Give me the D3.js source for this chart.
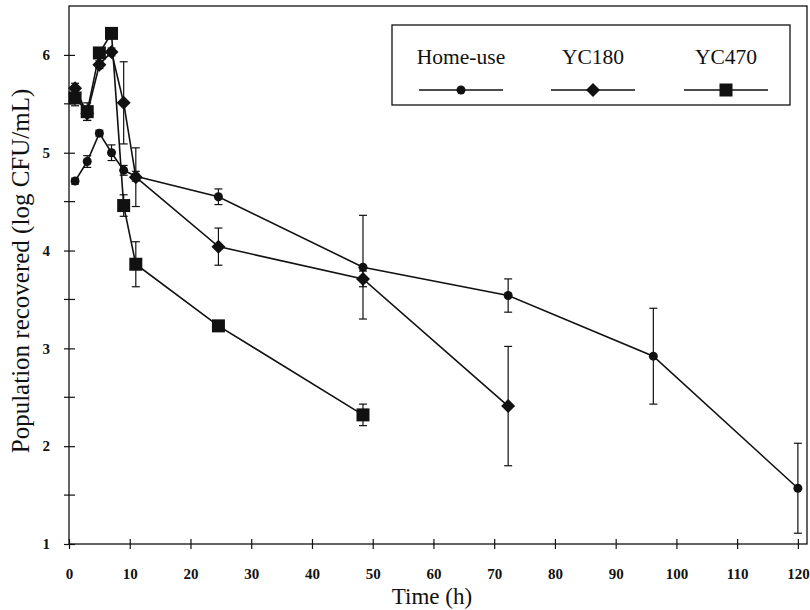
<!DOCTYPE html>
<html>
<head>
<meta charset="utf-8">
<script src="https://cdn.jsdelivr.net/npm/d3@7/dist/d3.min.js"></script>
<style>
  body { margin: 0; background: #fff; }
  svg { display: block; }
  text { font-family: "Liberation Serif", "Times New Roman", serif; fill: #111; }
</style>
</head>
<body>
<div id="chart"></div>
<script>
// data (time in h, log CFU/mL, error = +/- half bar)
var seriesNames = ["Home-use", "YC180", "YC470"];

var homeTime = [1, 3, 5, 7, 9, 11, 24.6, 48.4, 72.3, 96.2, 120];
var homeValue = [4.71, 4.91, 5.20, 5.00, 4.82, 4.76, 4.55, 3.83, 3.54, 2.92, 1.57];
var homeError = [0.03, 0.06, 0.03, 0.08, 0.05, 0.05, 0.08, 0.53, 0.17, 0.49, 0.46];

var yc180Time = [1, 3, 5, 7, 9, 11, 24.6, 48.4, 72.3];
var yc180Value = [5.66, 5.40, 5.90, 6.03, 5.51, 4.75, 4.04, 3.71, 2.41];
var yc180Error = [0.05, 0.07, 0.04, 0.04, 0.42, 0.30, 0.19, 0.08, 0.61];

var yc470Time = [1, 3, 5, 7, 9, 11, 24.6, 48.4];
var yc470Value = [5.56, 5.42, 6.02, 6.22, 4.46, 3.86, 3.23, 2.32];
var yc470Error = [0.08, 0.09, 0.04, 0.04, 0.11, 0.23, 0.05, 0.11];

var xTicks = d3.range(0, 121, 10);
var yTicks = [1, 2, 3, 4, 5, 6];
var yMinor = [1.5, 2.5, 3.5, 4.5, 5.5];

var width = 810, height = 610;
var svg = d3.select("#chart").append("svg").attr("width", width).attr("height", height);

//scales
var x = d3.scaleLinear().domain([0, 121.5]).range([69, 807]);
var y = d3.scaleLinear().domain([1, 6.5]).range([544, 6]);

var ink = "#111";

//frame
svg.append("rect")
    .attr("x", x(0)).attr("y", y(6.5))
    .attr("width", x(121.5) - x(0)).attr("height", y(1) - y(6.5))
    .attr("fill", "none").attr("stroke", ink).attr("stroke-width", 1.3);

//x axis: ticks cross the line
var xA = d3.axisBottom(x).tickValues(xTicks).tickSize(0).tickPadding(24).tickFormat(d3.format("d"));
var gx = svg.append("g").attr("transform", "translate(0," + y(1) + ")").call(xA);
gx.select(".domain").remove();
gx.selectAll("text").style("font-size", "15px").style("font-weight", "bold")
    .style("font-family", "'Liberation Serif', serif");
gx.selectAll(".tick").append("line")
    .attr("y1", -5).attr("y2", 5).attr("stroke", ink).attr("stroke-width", 1.2);

//y axis
var yA = d3.axisLeft(y).tickValues(yTicks).tickSize(0).tickPadding(19).tickFormat(d3.format("d"));
var gy = svg.append("g").attr("transform", "translate(" + x(0) + ",0)").call(yA);
gy.select(".domain").remove();
gy.selectAll("text").style("font-size", "15px").style("font-weight", "bold")
    .style("font-family", "'Liberation Serif', serif");
gy.selectAll(".tick").append("line")
    .attr("x1", -5).attr("x2", 6).attr("stroke", ink).attr("stroke-width", 1.2);
gy.selectAll(".minor").data(yMinor).enter().append("line")
    .attr("x1", -5).attr("x2", 6)
    .attr("y1", function(d){ return y(d); }).attr("y2", function(d){ return y(d); })
    .attr("stroke", ink).attr("stroke-width", 1.2);

//axis titles
svg.append("text")
    .attr("x", 432).attr("y", 604)
    .style("text-anchor", "middle").style("font-size", "23px")
    .text("Time (h)");
svg.append("text")
    .attr("transform", "translate(29," + 271 + ") rotate(-90)")
    .style("text-anchor", "middle").style("font-size", "25px")
    .text("Population recovered (log CFU/mL)");

//build series table
function rows(t, v, e){
    return t.map(function(d, i){ return {t: d, v: v[i], e: e[i]}; });
}
var series = [
    {name: seriesNames[0], data: rows(homeTime, homeValue, homeError), shape: "circle"},
    {name: seriesNames[1], data: rows(yc180Time, yc180Value, yc180Error), shape: "diamond"},
    {name: seriesNames[2], data: rows(yc470Time, yc470Value, yc470Error), shape: "square"}
];

function marker(g, shape, cx, cy){
    if (shape == "circle"){
        g.append("circle").attr("cx", cx).attr("cy", cy).attr("r", 4.5).attr("fill", ink);
    } else if (shape == "diamond"){
        var s = 7;
        g.append("path")
            .attr("d", "M" + cx + "," + (cy - s) + "L" + (cx + s) + "," + cy + "L" + cx + "," + (cy + s) + "L" + (cx - s) + "," + cy + "Z")
            .attr("fill", ink);
    } else {
        g.append("rect").attr("x", cx - 6.5).attr("y", cy - 6.5)
            .attr("width", 13).attr("height", 13).attr("fill", ink);
    }
}

var line = d3.line().x(function(d){ return x(d.t); }).y(function(d){ return y(d.v); });

series.forEach(function(s){
    var g = svg.append("g");
    //error bars
    s.data.forEach(function(d){
        var top = y(d.v + d.e), bot = y(d.v - d.e), cx = x(d.t);
        g.append("line").attr("x1", cx).attr("x2", cx).attr("y1", top).attr("y2", bot)
            .attr("stroke", ink).attr("stroke-width", 1.2);
        [top, bot].forEach(function(yy){
            g.append("line").attr("x1", cx - 4).attr("x2", cx + 4).attr("y1", yy).attr("y2", yy)
                .attr("stroke", ink).attr("stroke-width", 1.2);
        });
    });
    g.append("path").datum(s.data).attr("d", line)
        .attr("fill", "none").attr("stroke", ink).attr("stroke-width", 1.6);
    s.data.forEach(function(d){ marker(g, s.shape, x(d.t), y(d.v)); });
});

//legend
var leg = svg.append("g");
leg.append("rect").attr("x", 392).attr("y", 25).attr("width", 398).attr("height", 80)
    .attr("fill", "#fff").attr("stroke", ink).attr("stroke-width", 1.3);
var legCenters = [461, 593, 726];
series.forEach(function(s, i){
    var cx = legCenters[i];
    leg.append("text").attr("x", cx).attr("y", 64)
        .style("text-anchor", "middle").style("font-size", "21.5px").text(s.name);
    leg.append("line").attr("x1", cx - 42).attr("x2", cx + 42).attr("y1", 90).attr("y2", 90)
        .attr("stroke", ink).attr("stroke-width", 1.3);
    marker(leg, s.shape, cx, 90);
});
</script>
</body>
</html>
